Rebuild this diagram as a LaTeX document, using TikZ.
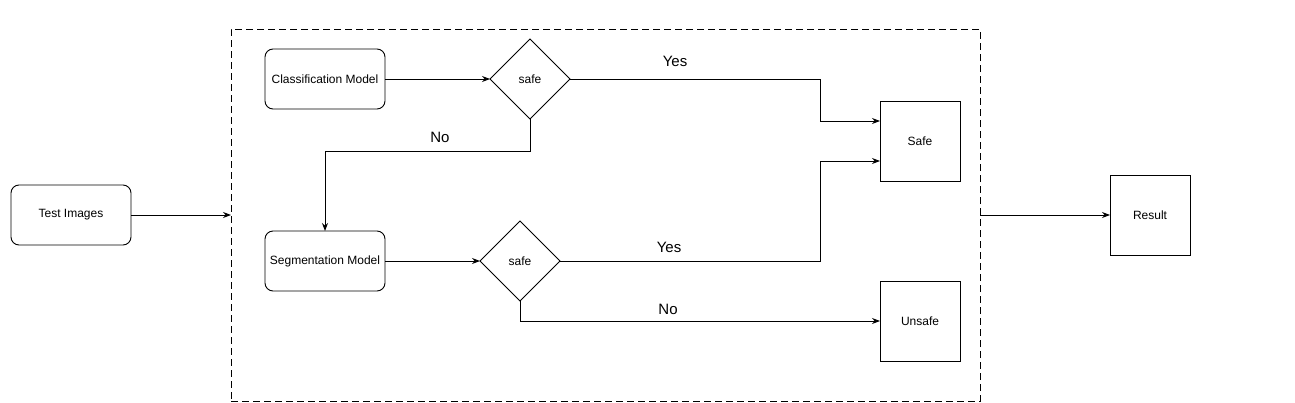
\documentclass[tikz,border=0pt]{standalone}
\usepackage{fontspec}
\setmainfont{Liberation Sans}
\usetikzlibrary{arrows.meta,shapes.geometric}
\begin{document}
\begin{tikzpicture}[x=1pt,y=-1pt,
  every node/.style={inner sep=0pt,outer sep=0pt},
  roundbox/.style={draw,rounded corners=8pt,minimum width=120pt,minimum height=60pt,line width=0.9pt,font=\fontsize{12}{14}\selectfont},
  sqbox/.style={draw,minimum width=80pt,minimum height=80pt,line width=0.9pt,font=\fontsize{12}{14}\selectfont},
  decision/.style={draw,diamond,minimum width=80pt,minimum height=80pt,line width=0.9pt,font=\fontsize{12}{14}\selectfont},
  conn/.style={line width=0.9pt,-{Stealth[length=8pt,width=6pt]}},
  lbl/.style={font=\fontsize{15}{17}\selectfont}]
\useasboundingbox (0,0) rectangle (1295,402);
\node[draw,dash pattern=on 7pt off 4pt,line width=0.9pt,minimum width=749pt,minimum height=372pt] (frame) at (605.5,215) {};
\node[roundbox] (test) at (71,215) {Test Images};
\node[roundbox] (cls) at (325,79) {Classification Model};
\node[decision] (d1) at (530,79) {safe};
\node[roundbox] (seg) at (325,261) {Segmentation Model};
\node[decision] (d2) at (520,261) {safe};
\node[sqbox] (safe) at (920,141) {Safe};
\node[sqbox] (unsafe) at (920,321) {Unsafe};
\node[sqbox] (result) at (1150,215) {Result};
\coordinate (safeA) at (880,121);
\coordinate (safeB) at (880,161);
\draw[conn] (test.east) -- (frame.west);
\draw[conn] (frame.east) -- (result.west);
\draw[conn] (cls.east) -- (d1.west);
\draw[conn] (seg.east) -- (d2.west);
\draw[conn] (d1.east) -- (820,79) |- (safeA);
\draw[conn] (d2.east) -- (820,261) |- (safeB);
\draw[conn] (d1.south) |- (325,151) -- (seg.north);
\draw[conn] (d2.south) |- (unsafe.west);
\node[lbl] (y1) at (675,61) {Yes};
\node[lbl] (y2) at (669,247) {Yes};
\node[lbl] (n1) at (440,137) {No};
\node[lbl] (n2) at (668,309) {No};
\end{tikzpicture}
\end{document}
